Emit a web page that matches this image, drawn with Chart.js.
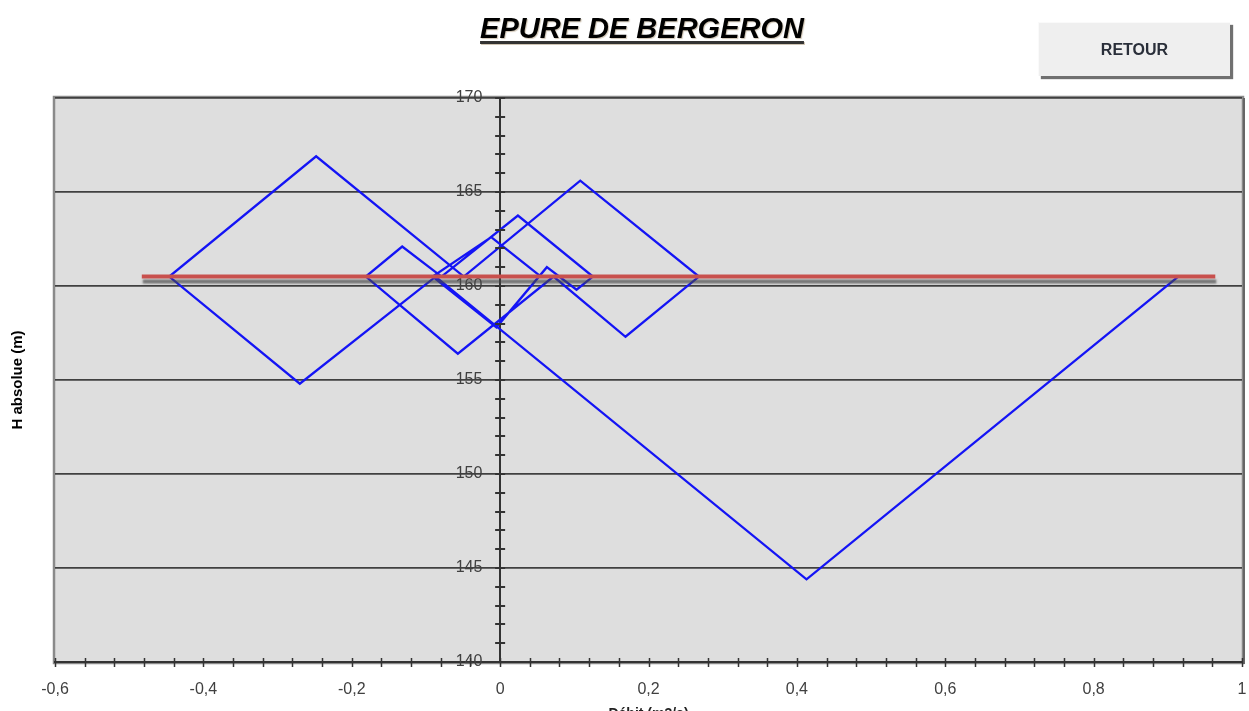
<!DOCTYPE html>
<html>
<head>
<meta charset="utf-8">
<script src="https://cdn.jsdelivr.net/npm/chart.js@4/dist/chart.umd.min.js"></script>
<style>
  html, body { margin: 0; padding: 0; background: #ffffff; overflow: hidden; }
  #wrap { position: relative; width: 1249px; height: 711px; overflow: hidden; background: #fff; }
  #c { position: absolute; left: 0; top: 0; }
  .title {
    position: absolute; left: 642px; top: 14px; transform: translateX(-50%);
    font: italic bold 29px "Liberation Sans", Arial, sans-serif; line-height: 29px;
    color: #000; white-space: nowrap; text-decoration: underline;
    text-decoration-thickness: 3px; text-underline-offset: 3px;
    text-decoration-color: #333;
    text-shadow: 1px 1px 1px rgba(120,90,40,0.35);
  }
  .btn {
    position: absolute; left: 1038px; top: 22px; width: 191px; height: 53px;
    background: #efefef; border-top: 1px solid #fafafa; border-left: 1px solid #fafafa;
    box-shadow: 3px 3px 1px #707070;
    font: bold 16px "Liberation Sans", Arial, sans-serif; color: #2a2f3a;
    display: flex; align-items: center; justify-content: center;
  }
</style>
</head>
<body>
<div id="wrap">
  <canvas id="c" width="1249" height="727"></canvas>
  <div class="title">EPURE DE BERGERON</div>
  <div class="btn">RETOUR</div>
</div>
<script>
// ---- Data ----
const debitQ   = [0.914, 0.413, -0.087, -0.270, -0.446, -0.248, -0.049, 0.108, 0.268, 0.169, 0.072, -0.057, -0.181, -0.132, -0.079, 0.024, 0.125, 0.103, 0.063, -0.005, -0.091, -0.012, 0.055];
const hauteurH = [160.5, 144.4, 160.5, 154.8, 160.5, 166.9, 160.5, 165.6, 160.5, 157.3, 160.5, 156.4, 160.5, 162.1, 160.5, 163.75, 160.5, 159.8, 161.0, 157.8, 160.5, 162.6, 160.5];
const reservoirQ = [-0.483, 0.964];
const reservoirH = [160.5, 160.5];

const xRange = [-0.6, 1];
const xStep = 0.04;
const xLabelValues = [-0.6, -0.4, -0.2, 0, 0.2, 0.4, 0.6, 0.8, 1];
const xLabelTexts  = ['-0,6', '-0,4', '-0,2', '0', '0,2', '0,4', '0,6', '0,8', '1'];

const yRange = [140, 170];
const yStep = 1;
const yLabelValues = [140, 145, 150, 155, 160, 165, 170];
const yLabelTexts  = ['140', '145', '150', '155', '160', '165', '170'];

const yTitle = 'H absolue (m)';
const xTitle = 'Débit (m3/s)';

// ---- Build datasets ----
const bluePts = debitQ.map((q, i) => ({ x: q, y: hauteurH[i] }));
const redPts = reservoirQ.map((q, i) => ({ x: q, y: reservoirH[i] }));

function labelFor(values, texts, v) {
  const i = values.findIndex(a => Math.abs(a - v) < 1e-6);
  return i >= 0 ? texts[i] : '';
}
function isMajorY(v) { return yLabelValues.some(a => Math.abs(a - v) < 1e-6); }

const plotBg = {
  id: 'plotBg',
  beforeDraw(chart) {
    const { ctx, chartArea: a } = chart;
    ctx.save();
    ctx.fillStyle = '#dedede';
    ctx.fillRect(a.left, a.top, a.right - a.left, a.bottom - a.top);
    ctx.strokeStyle = '#8a8a8a';
    ctx.lineWidth = 2.5;
    ctx.strokeRect(a.left - 1, a.top - 1, a.right - a.left + 2, a.bottom - a.top + 2);
    ctx.strokeStyle = '#666';
    ctx.lineWidth = 2;
    ctx.beginPath();
    ctx.moveTo(a.right + 2, a.top);
    ctx.lineTo(a.right + 2, a.bottom + 2);
    ctx.stroke();
    ctx.restore();
  }
};

const crossTicks = {
  id: 'crossTicks',
  afterDraw(chart) {
    const { ctx, chartArea: a } = chart;
    const xs = chart.scales.x, ys = chart.scales.y;
    ctx.save();
    ctx.strokeStyle = '#333';
    ctx.lineWidth = 1.5;
    const yb = a.bottom;
    xs.ticks.forEach(t => {
      const px = Math.round(xs.getPixelForValue(t.value)) + 0.5;
      ctx.beginPath(); ctx.moveTo(px, yb - 4); ctx.lineTo(px, yb + 5); ctx.stroke();
    });
    const x0 = xs.getPixelForValue(0);
    ctx.lineWidth = 2;
    ys.ticks.forEach(t => {
      const py = Math.round(ys.getPixelForValue(t.value));
      ctx.beginPath(); ctx.moveTo(x0 - 5, py); ctx.lineTo(x0 + 5, py); ctx.stroke();
    });
    ctx.restore();
  }
};

const lineShadow = {
  id: 'lineShadow',
  beforeDatasetDraw(chart, args) {
    if (args.index !== 0) return;
    const ctx = chart.ctx;
    ctx.save();
    ctx.shadowColor = 'rgba(70,70,70,0.7)';
    ctx.shadowOffsetX = 1;
    ctx.shadowOffsetY = 5;
    ctx.shadowBlur = 2;
  },
  afterDatasetDraw(chart, args) {
    if (args.index !== 0) return;
    chart.ctx.restore();
  }
};

Chart.defaults.font.family = '"Liberation Sans", Arial, sans-serif';

new Chart(document.getElementById('c'), {
  type: 'scatter',
  data: {
    datasets: [
      {
        label: 'Réservoir',
        data: redPts,
        showLine: true,
        borderColor: '#c8504d',
        borderWidth: 4,
        pointRadius: 0,
        order: 0
      },
      {
        label: 'Epure',
        data: bluePts,
        showLine: true,
        borderColor: '#1414f5',
        borderWidth: 2.3,
        pointRadius: 0,
        tension: 0,
        order: 1
      }
    ]
  },
  options: {
    responsive: false,
    animation: false,
    devicePixelRatio: 1,
    layout: { padding: { top: 98, right: 7, bottom: 0, left: 0 } },
    plugins: {
      legend: { display: false },
      tooltip: { enabled: false },
      title: { display: false }
    },
    scales: {
      x: {
        type: 'linear',
        position: 'bottom',
        min: xRange[0], max: xRange[1],
        ticks: {
          stepSize: xStep, autoSkip: false, maxRotation: 0, padding: 0,
          color: '#404040', font: { size: 16 },
          callback: (v) => labelFor(xLabelValues, xLabelTexts, v)
        },
        grid: { drawOnChartArea: false, drawTicks: true, tickLength: 18, tickColor: 'rgba(0,0,0,0)' },
        border: { display: true, color: '#333', width: 2 },
        title: {
          display: true, text: xTitle, color: '#222',
          font: { size: 14, weight: 'bold' }, padding: { top: 7, bottom: 4 }
        }
      },
      y: {
        type: 'linear',
        position: { x: 0 },
        min: yRange[0], max: yRange[1],
        ticks: {
          stepSize: yStep, autoSkip: false, padding: 0,
          color: '#404040', font: { size: 16 },
          callback: (v) => {
            const s = labelFor(yLabelValues, yLabelTexts, v);
            return s ? s + '    ' : '';
          }
        },
        grid: {
          drawOnChartArea: true, drawTicks: false,
          color: (c) => (c.tick && isMajorY(c.tick.value)) ? '#404040' : 'rgba(0,0,0,0)',
          lineWidth: 1.7
        },
        border: { display: true, color: '#333', width: 2 }
      },
      yTitleAxis: {
        type: 'linear',
        position: 'left',
        display: true,
        ticks: { display: false },
        grid: { display: false, drawTicks: false },
        border: { display: false },
        title: {
          display: true, text: yTitle, color: '#000',
          font: { size: 15, weight: 'bold' }, padding: { top: 9, bottom: 28 }
        }
      }
    }
  },
  plugins: [plotBg, crossTicks, lineShadow]
});
</script>
</body>
</html>
